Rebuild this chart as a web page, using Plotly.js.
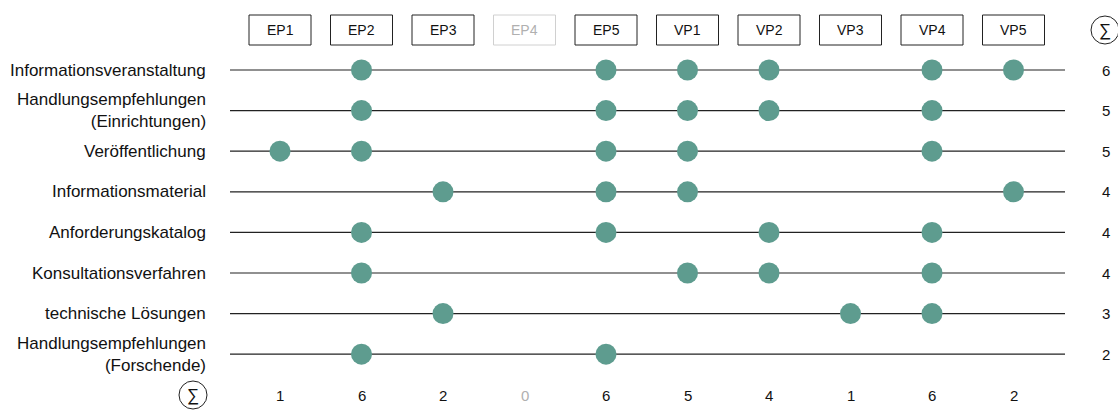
<!DOCTYPE html>
<html><head><meta charset="utf-8">
<script src="https://cdn.plot.ly/plotly-3.0.1.min.js"></script>
<style>html,body{margin:0;padding:0;background:#fff}#chart{width:1118px;height:410px}</style>
</head><body><div id="chart"></div>
<script>
const projects = ['EP1','EP2','EP3','EP4','EP5','VP1','VP2','VP3','VP4','VP5'];
const categories = [
  'Informationsveranstaltung',
  'Handlungsempfehlungen<br>(Einrichtungen)',
  'Veröffentlichung',
  'Informationsmaterial',
  'Anforderungskatalog',
  'Konsultationsverfahren',
  'technische Lösungen',
  'Handlungsempfehlungen<br>(Forschende)'
];
const informationsveranstaltung = ['EP2','EP5','VP1','VP2','VP4','VP5'];
const handlungsempfehlungenEinrichtungen = ['EP2','EP5','VP1','VP2','VP4'];
const veroeffentlichung = ['EP1','EP2','EP5','VP1','VP4'];
const informationsmaterial = ['EP3','EP5','VP1','VP5'];
const anforderungskatalog = ['EP2','EP5','VP2','VP4'];
const konsultationsverfahren = ['EP2','VP1','VP2','VP4'];
const technischeLoesungen = ['EP3','VP3','VP4'];
const handlungsempfehlungenForschende = ['EP2','EP5'];
const rows = [informationsveranstaltung, handlungsempfehlungenEinrichtungen, veroeffentlichung,
  informationsmaterial, anforderungskatalog, konsultationsverfahren, technischeLoesungen,
  handlungsempfehlungenForschende];

const W = 1118, H = 410;
const x0px = 280, dxpx = 81.5, y0px = 70, dypx = 40.6;
const xr = [-x0px/dxpx, (W - x0px)/dxpx];
const yr = [(H - y0px)/dypx, -y0px/dypx];
const pxX = p => (p - x0px)/dxpx;
const pxY = p => (p - y0px)/dypx;

const teal = 'rgb(94,156,143)';
const font = 'Liberation Sans, Arial, sans-serif';
const gray = '#b0b0b0';

const xs = [], ys = [];
rows.forEach((r, ri) => r.forEach(p => { xs.push(projects.indexOf(p)); ys.push(ri); }));

const shapes = [];
const annotations = [];
categories.forEach((c, ri) => {
  shapes.push({type:'line', xref:'x', yref:'y', x0:pxX(230), x1:pxX(1065), y0:ri, y1:ri,
    line:{color:'#222', width:1.2}, layer:'below'});
  annotations.push({x:pxX(208), y:ri, xref:'x', yref:'y', text:c, showarrow:false,
    xanchor:'right', align:'right', font:{family:font, size:17, color:'#111'}});
  annotations.push({x:pxX(1106), y:ri, xref:'x', yref:'y', text:String(rows[ri].length), showarrow:false,
    xanchor:'center', font:{family:font, size:15, color:'#111'}});
});
const hy = pxY(30);
projects.forEach((p, pi) => {
  const count = rows.filter(r => r.includes(p)).length;
  const col = count === 0 ? gray : '#111';
  shapes.push({type:'rect', xref:'x', yref:'y', x0:pi - 31/dxpx, x1:pi + 31/dxpx,
    y0:hy - 15/dypx, y1:hy + 15/dypx, line:{color: count === 0 ? '#d0d0d0' : '#222', width:1}});
  annotations.push({x:pi, y:hy, xref:'x', yref:'y', text:p, showarrow:false,
    font:{family:font, size:14, color: count === 0 ? gray : '#111'}});
  annotations.push({x:pi, y:pxY(395), xref:'x', yref:'y', text:String(count), showarrow:false,
    font:{family:font, size:15, color:col}});
});
// sigma circles
[[1105, 30], [193, 395]].forEach(([cx, cy]) => {
  shapes.push({type:'circle', xref:'x', yref:'y', x0:pxX(cx-14), x1:pxX(cx+14),
    y0:pxY(cy-14), y1:pxY(cy+14), line:{color:'#222', width:1}});
  annotations.push({x:pxX(cx), y:pxY(cy), xref:'x', yref:'y', text:'∑', showarrow:false,
    font:{family:font, size:17, color:'#111'}});
});

const trace = {x:xs, y:ys, type:'scatter', mode:'markers',
  marker:{size:21, color:teal}, hoverinfo:'skip', cliponaxis:false};

Plotly.newPlot('chart', [trace], {
  width:W, height:H, margin:{l:0,r:0,t:0,b:0},
  paper_bgcolor:'#fff', plot_bgcolor:'#fff', showlegend:false,
  xaxis:{range:xr, visible:false, fixedrange:true},
  yaxis:{range:yr, visible:false, fixedrange:true},
  shapes, annotations
}, {displayModeBar:false, staticPlot:true});
</script></body></html>
